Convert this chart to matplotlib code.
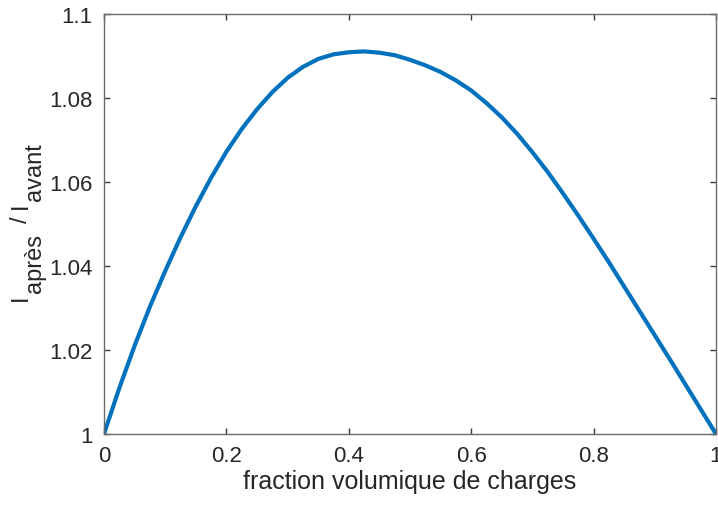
import numpy as np
import matplotlib
matplotlib.use("Agg")
import matplotlib.pyplot as plt
from matplotlib.ticker import FuncFormatter
from matplotlib.textpath import TextToPath
from matplotlib.font_manager import FontProperties

plt.rcParams['font.family'] = ['Liberation Sans', 'DejaVu Sans']

# valeurs
fraction = [0.000, 0.025, 0.050, 0.075, 0.100, 0.125, 0.150, 0.175, 0.200, 0.225,
            0.250, 0.275, 0.300, 0.325, 0.350, 0.375, 0.400, 0.425, 0.450, 0.475,
            0.500, 0.525, 0.550, 0.575, 0.600, 0.625, 0.650, 0.675, 0.700, 0.725,
            0.750, 0.775, 0.800, 0.825, 0.850, 0.875, 0.900, 0.925, 0.950, 0.975,
            1.000]
ratio = [1.0000, 1.0109, 1.0210, 1.0303, 1.0388, 1.0468, 1.0542, 1.0610, 1.0672, 1.0726,
         1.0773, 1.0814, 1.0848, 1.0874, 1.0893, 1.0904, 1.0909, 1.0911, 1.0908, 1.0902,
         1.0891, 1.0878, 1.0862, 1.0842, 1.0818, 1.0788, 1.0754, 1.0715, 1.0671, 1.0624,
         1.0573, 1.0520, 1.0465, 1.0409, 1.0351, 1.0293, 1.0235, 1.0177, 1.0118, 1.0059,
         1.0000]

xticks = [0, 0.2, 0.4, 0.6, 0.8, 1]
yticks = [1, 1.02, 1.04, 1.06, 1.08, 1.1]

W, H, DPI = 718, 506, 100
fig = plt.figure(figsize=(W / DPI, H / DPI), dpi=DPI)
ax = fig.add_axes([0.1448, 0.1403, 0.8524, 0.8300])

ax.plot(fraction, ratio, color='#0072BD', lw=3.0, solid_capstyle='round')

ax.set_xlim(0, 1)
ax.set_ylim(1, 1.1)
ax.set_xticks(xticks)
ax.set_yticks(yticks)
fmt = FuncFormatter(lambda v, p: '%g' % round(v, 4))
ax.xaxis.set_major_formatter(fmt)
ax.yaxis.set_major_formatter(fmt)

for s in ax.spines.values():
    s.set_color('#6a6a6a')
    s.set_linewidth(1.0)
ax.tick_params(direction='in', top=True, right=True, length=4.5, width=1.0,
               color='#3a3a3a', labelsize=16, labelcolor='#262626', pad=8)

ax.set_xlabel('fraction volumique de charges', fontsize=18, color='#262626', labelpad=2)

# label y : I_après / I_avant, indices presque a la meme taille (style MATLAB)
lab_size = 17
prop = FontProperties(family='Liberation Sans', size=lab_size)
ttp = TextToPath()


def adv(s):
    w, h, d = ttp.get_text_width_height_descent(s, prop, ismath=False)
    return w * DPI / 72


space = 0.278 * lab_size * DPI / 72
pieces = [('I', 0, 1.5), ('après', 1, 1.6 * space), ('/', 0, 1.2 * space),
          ('I', 0, 1.5), ('avant', 1, 0)]
total = sum(adv(t) + g for t, sub, g in pieces)
y_px = (H - 222) - total / 2
x_main, x_sub = 27, 41
for t, sub, g in pieces:
    fig.text((x_sub if sub else x_main) / W, y_px / H, t, rotation=90,
             rotation_mode='anchor', ha='left', va='baseline',
             fontproperties=prop, color='#262626')
    y_px += adv(t) + g

fig.savefig('out.png', dpi=DPI)
